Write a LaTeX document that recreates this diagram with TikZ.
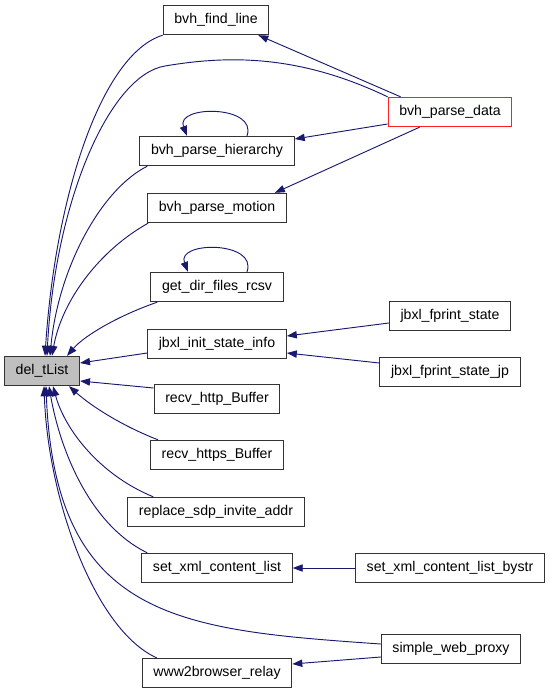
\documentclass[tikz,border=0pt]{standalone}
\usepackage{fontspec}
\setmainfont{Liberation Sans}
\usetikzlibrary{arrows.meta,calc}
\definecolor{cgedge}{HTML}{191970}
\definecolor{cgred}{HTML}{FF2020}
\definecolor{cggray}{HTML}{BFBFBF}

\begin{document}
\begin{tikzpicture}[
    x=0.75pt,
    y=-0.75pt,
    fn/.style={
        draw=black!80,
        fill=white,
        line width=0.75pt,
        minimum height=22pt,
        inner xsep=8.4pt,
        inner ysep=0pt,
        font=\fontsize{10.6}{12}\selectfont
    },
    root/.style={
        fn,
        fill=cggray
    },
    entry/.style={
        fn,
        draw=cgred
    },
    edge/.style={
        -{Triangle[length=7.5pt,width=5.5pt]},
        draw=cgedge,
        line width=0.7pt
    }
]

\useasboundingbox (0,0) rectangle (552,696);

\node[root] (del) at (42,371) {del\_tList};
\node[fn] (findline) at (216,20) {bvh\_find\_line};
\node[entry] (data) at (450,112) {bvh\_parse\_data};
\node[fn] (hier) at (217,151) {bvh\_parse\_hierarchy};
\node[fn] (motion) at (217,208) {bvh\_parse\_motion};
\node[fn] (dir) at (217,287) {get\_dir\_files\_rcsv};
\node[fn] (init) at (217,344) {jbxl\_init\_state\_info};
\node[fn] (fprint) at (450,316) {jbxl\_fprint\_state};
\node[fn] (fprintjp) at (450,372) {jbxl\_fprint\_state\_jp};
\node[fn] (http) at (217,399) {recv\_http\_Buffer};
\node[fn] (https) at (217,455) {recv\_https\_Buffer};
\node[fn] (sdp) at (216,512) {replace\_sdp\_invite\_addr};
\node[fn] (xml) at (217,568) {set\_xml\_content\_list};
\node[fn] (bystr) at (450,568) {set\_xml\_content\_list\_bystr};
\node[fn] (proxy) at (451,649) {simple\_web\_proxy};
\node[fn] (relay) at (217,673) {www2browser\_relay};

% callers above del_tList
\draw[edge] (findline.south west) .. controls (100,55) and (55,200) .. ($(del.north)+(3,0)$);
\draw[edge] (data.north west) .. controls (300,55) and (230,55) .. (165,66)
    .. controls (110,75) and (55,200) .. ($(del.north)+(5,0)$);
\draw[edge] ($(hier.south west)+(8,0)$) .. controls (100,190) and (58,270) .. ($(del.north)+(8,0)$);
\draw[edge] ($(motion.south west)+(1,0)$) .. controls (100,250) and (62,300) .. ($(del.north)+(10,0)$);
\draw[edge] ($(dir.south west)+(7,0)$) .. controls (120,315) and (85,335) .. ($(del.north)+(25,0)$);

% callers beside del_tList
\draw[edge] ($(init.west)+(0,9)$) -- ($(del.east)+(0,-8)$);
\draw[edge] ($(http.west)+(0,-11)$) -- ($(del.east)+(0,10)$);

% callers below del_tList
\draw[edge] ($(https.north west)+(8,0)$) .. controls (120,425) and (90,405) .. ($(del.south)+(27,0)$);
\draw[edge] ($(sdp.north west)+(26,0)$) .. controls (100,475) and (65,430) .. ($(del.south)+(11,0)$);
\draw[edge] ($(xml.north west)+(6,0)$) .. controls (90,525) and (60,450) .. ($(del.south)+(7,0)$);
\draw[edge] ($(proxy.west)+(0,-5)$) .. controls (180,630) and (55,620) .. ($(del.south)+(4,0)$);
\draw[edge] ($(relay.north west)+(15,0)$) .. controls (95,630) and (48,500) .. ($(del.south)+(2,0)$);

% recursive calls
\draw[edge] ($(hier.north)+(30,0)$) .. controls +(11,-31) and +(-12,-31) .. ($(hier.north)+(-30,0)$);
\draw[edge] ($(dir.north)+(30,0)$) .. controls +(11,-31) and +(-12,-31) .. ($(dir.north)+(-29,0)$);

% second level callers
\draw[edge] ($(data.north west)+(13,0)$) -- ($(findline.south east)+(-11,0)$);
\draw[edge] ($(data.west)+(0,12)$) -- ($(hier.east)+(0,-12)$);
\draw[edge] ($(data.south west)+(32,0)$) -- ($(motion.north east)+(-12,0)$);
\draw[edge] ($(fprint.west)+(0,7)$) -- ($(init.east)+(0,-8)$);
\draw[edge] ($(fprintjp.west)+(0,-9)$) -- ($(init.east)+(0,9)$);
\draw[edge] (bystr.west) -- (xml.east);
\draw[edge] ($(proxy.west)+(0,8)$) -- ($(relay.east)+(0,-9)$);

\end{tikzpicture}
\end{document}
